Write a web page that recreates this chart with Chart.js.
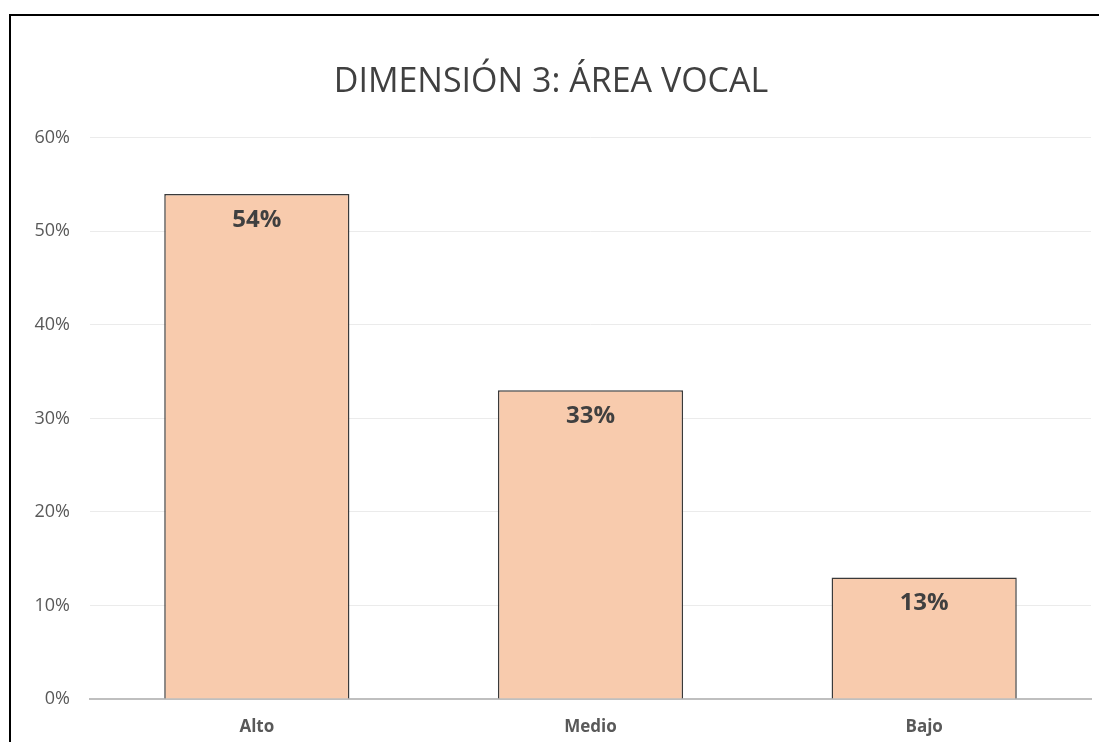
<!DOCTYPE html>
<html>
<head>
<meta charset="utf-8">
<script src="https://cdn.jsdelivr.net/npm/chart.js@4"></script>
<style>
  html, body { margin: 0; padding: 0; background: #fff; overflow: hidden; }
  #frame {
    position: absolute; left: 9px; top: 14px;
    width: 1090px; height: 728px;
    border-left: 2px solid #000; border-top: 2px solid #000;
  }
  canvas { display: block; }
</style>
</head>
<body>
<div id="frame"><canvas id="myChart" width="1088" height="726"></canvas></div>
<script>
const categories = ['Alto', 'Medio', 'Bajo'];
const values = [54, 33, 13];
const tickLabels = ['0%', '10%', '20%', '30%', '40%', '50%', '60%'];

const ctx = document.getElementById('myChart');

// draws the "54%" labels inside the top of each bar
const barLabels = {
  id: 'barLabels',
  afterDatasetsDraw(chart) {
    const c = chart.ctx;
    const meta = chart.getDatasetMeta(0);
    c.save();
    c.font = 'bold 24px "Open Sans", sans-serif';
    c.fillStyle = '#404040';
    c.textAlign = 'center';
    c.textBaseline = 'middle';
    meta.data.forEach((bar, i) => {
      c.fillText(values[i] + '%', bar.x, bar.y + 26);
    });
    c.restore();
  }
};

new Chart(ctx, {
  type: 'bar',
  data: {
    labels: categories,
    datasets: [{
      data: values,
      backgroundColor: '#F8CBAD',
      borderColor: '#3A3A3A',
      borderWidth: 1.5,
      categoryPercentage: 1,
      barPercentage: 0.555
    }]
  },
  options: {
    responsive: false,
    animation: false,
    layout: { padding: { left: 0, right: 8, top: 0, bottom: 0 } },
    plugins: {
      legend: { display: false },
      tooltip: { enabled: false },
      title: {
        display: true,
        text: 'DIMENSIÓN 3: ÁREA VOCAL',
        color: '#404040',
        font: { family: '"Open Sans", sans-serif', size: 34, weight: 'normal' },
        padding: { top: 46, bottom: 35 }
      }
    },
    scales: {
      x: {
        afterFit(scale) { scale.height = 43; },
        grid: { display: false, drawTicks: false },
        border: { color: '#BFBFBF', width: 2 },
        ticks: {
          padding: 18,
          color: '#595959',
          font: { family: '"Open Sans", sans-serif', size: 17, weight: 'bold' }
        }
      },
      y: {
        min: 0,
        max: 60,
        afterFit(scale) { scale.width = 79; },
        grid: { color: '#EBEBEB', lineWidth: 1, drawTicks: false },
        border: { display: false },
        ticks: {
          stepSize: 10,
          padding: 20,
          color: '#595959',
          font: { family: '"Open Sans", sans-serif', size: 18 },
          callback: (v, i) => tickLabels[i]
        }
      }
    }
  },
  plugins: [barLabels]
});
</script>
</body>
</html>
